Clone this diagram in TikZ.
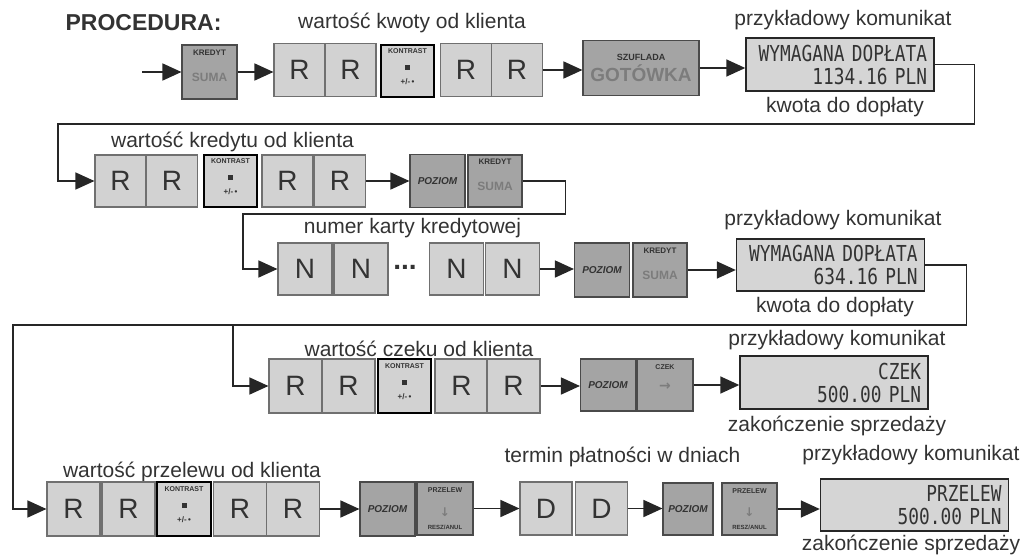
\documentclass[tikz,border=0pt]{standalone}
\usepackage{fontspec}
\setmainfont{Liberation Sans}
\newfontfamily\lcdfont[FakeStretch=0.81]{DejaVu Sans Mono}
\newfontfamily\symfont{DejaVu Sans}
\usetikzlibrary{arrows.meta}

\begin{document}
\begin{tikzpicture}[x=1pt, y=-1pt,
  every node/.style={inner sep=0pt},
  lab/.style={font=\fontsize{21}{24}\selectfont, text=cInk},
  digit/.style={draw=cEdge, fill=cKey, line width=1.1pt, minimum width=51pt,
    minimum height=53pt, font=\fontsize{28}{28}\selectfont, text=cInk},
  dotkey/.style={digit, draw=black, line width=1.8pt, align=center,
    font=\fontsize{7}{12}\selectfont\bfseries},
  fnkey/.style={draw=cDark, fill=cFn, line width=1.1pt, minimum width=55pt,
    minimum height=54pt, align=center, font=\fontsize{8}{12}\selectfont\bfseries, text=cInk},
  lvlkey/.style={fnkey, font=\fontsize{10}{12}\selectfont\bfseries\itshape},
  lcd/.style={draw=cLine, fill=cLcd, line width=1.4pt, inner xsep=7pt, minimum height=53pt,
    text width=174pt, align=right, font=\lcdfont\fontsize{22}{23}\selectfont, text=cInk},
  flow/.style={draw=cLine, line width=1.6pt, -{Triangle[length=19pt,width=17pt]}},
  wire/.style={flow, line width=1.4pt},
]

% --- colors (scanned grey tones) ---
\definecolor{cKey} {HTML}{D2D2D2}
\definecolor{cEdge}{HTML}{707070}
\definecolor{cFn}  {HTML}{A4A4A4}
\definecolor{cDark}{HTML}{4A4A4A}
\definecolor{cLcd} {HTML}{D5D5D5}
\definecolor{cLine}{HTML}{262626}
\definecolor{cInk} {HTML}{333333}
\definecolor{cSoft}{HTML}{7C7C7C}

\useasboundingbox (0,0) rectangle (1023,557);

% --- key faces ---
\def\kontrast{KONTRAST\\[4pt]\rule{5pt}{5pt}\\[2.5pt]{\fontsize{8}{12}\selectfont +/-\,\textbullet}\\[-3pt]\mbox{}}
\def\kredyt{KREDYT\\[14pt]{\fontsize{12}{12}\selectfont\color{cSoft}SUMA}\\\mbox{}}
\def\przelew{{\fontsize{7}{12}\selectfont PRZELEW}\\[11.5pt]{\symfont\fontsize{12}{12}\selectfont\color{cSoft}↓}\\[1pt]{\fontsize{6}{12}\selectfont RESZ/ANUL}}

% --- row 1: gotowka ---
\node[font=\fontsize{23}{26}\selectfont\bfseries, text=cInk] (title) at (143.5,23) {PROCEDURA:};
\node[lab] (lab1) at (412,23) {wartość kwoty od klienta};
\coordinate (in1) at (142,72);
\node[fnkey] (kr1) at (209.5,72) {\kredyt};
\foreach \nm/\cx in {r1a/299.5, r1b/350.5, r1c/466, r1d/517}
  \node[digit] (\nm) at (\cx,70) {R};
\node[dotkey, minimum width=53pt, minimum height=52pt] (kt1) at (407.5,71) {\kontrast};
\node[fnkey, minimum width=116pt, minimum height=55pt, font=\fontsize{9}{12}\selectfont\bfseries] (sz) at (641,68)
  {SZUFLADA\\[3pt]{\fontsize{19}{19}\selectfont\color{cSoft}GOTÓWKA}};
\node[lcd] (msg1) at (840,64.5) {WYMAGANA DOPŁATA\\1134.16 PLN};
\node[lab] (lab1b) at (843,20) {przykładowy komunikat};
\node[lab] (lab1c) at (845,107) {kwota do dopłaty};

\draw[flow] (in1) -- (kr1.west);
\draw[flow] (kr1.east) -- (kr1.east -| r1a.west);
\draw[flow] (r1d.east) -- (r1d.east -| sz.west);
\draw[flow] (sz.east) -- (sz.east -| msg1.west);

% --- row 2: kredyt ---
\node[lab] (lab2) at (232.5,142) {wartość kredytu od klienta};
\foreach \nm/\cx in {r2a/120.5, r2b/172, r2c/287.5, r2d/340}
  \node[digit, minimum height=52pt] (\nm) at (\cx,181) {R};
\node[dotkey, minimum width=53pt, minimum height=52pt] (kt2) at (230.5,181) {\kontrast};
\node[lvlkey, minimum height=53pt] (pz2) at (437.5,181) {POZIOM};
\node[fnkey, minimum width=54pt, minimum height=52pt] (kr2) at (495,181) {\kredyt};

\draw[flow] (r2d.east) -- (r2d.east -| pz2.west);

% --- row 3: numer karty ---
\node[lab] (lab3) at (412.5,228) {numer karty kredytowej};
\foreach \nm/\cx in {n3a/305, n3b/361, n3c/456.5, n3d/512.5}
  \node[digit, minimum width=54pt, minimum height=52pt] (\nm) at (\cx,269) {N};
\node[font=\fontsize{28}{28}\selectfont\bfseries, text=cInk] (dots) at (405,267) {...};
\node[lvlkey] (pz3) at (602,270) {POZIOM};
\node[fnkey, minimum width=54pt] (kr3) at (660,270) {\kredyt};
\node[lcd, minimum height=52pt] (msg2) at (830.5,265) {WYMAGANA DOPŁATA\\634.16 PLN};
\node[lab] (lab3b) at (833,220) {przykładowy komunikat};
\node[lab] (lab3c) at (835,307) {kwota do dopłaty};

\draw[flow] (n3d.east) -- (n3d.east -| pz3.west);
\draw[flow] (kr3.east) -- (kr3.east -| msg2.west);

% --- row 4: czek ---
\node[lab] (lab4) at (419,349) {wartość czeku od klienta};
\foreach \nm/\cx in {r4a/295.5, r4b/348.5, r4c/461.5, r4d/513.5}
  \node[digit, minimum width=53pt, minimum height=54pt] (\nm) at (\cx,386) {R};
\node[dotkey, minimum width=53pt, minimum height=54pt] (kt4) at (404.5,386) {\kontrast};
\node[lvlkey, minimum height=52pt] (pz4) at (608,385) {POZIOM};
\node[fnkey, minimum width=56pt, minimum height=52pt, font=\fontsize{7}{12}\selectfont\bfseries] (cz4) at (665,385)
  {CZEK\\[9pt]{\symfont\fontsize{14}{14}\selectfont\color{cSoft}→}\\[3pt]\mbox{}};
\node[lcd] (msg3) at (834,382.5) {CZEK\\500.00 PLN};
\node[lab] (lab4b) at (837,340) {przykładowy komunikat};
\node[lab] (lab4c) at (837,426) {zakończenie sprzedaży};

\draw[flow] (r4d.east) -- (r4d.east -| pz4.west);
\draw[flow] (cz4.east) -- (cz4.east -| msg3.west);

% --- row 5: przelew ---
\node[lab] (lab5) at (192,472) {wartość przelewu od klienta};
\foreach \nm/\cx in {r5a/73.5, r5b/128.5, r5c/240, r5d/293}
  \node[digit, minimum width=53pt, minimum height=54pt] (\nm) at (\cx,509) {R};
\node[dotkey, minimum width=54pt, minimum height=54pt] (kt5) at (184,509) {\kontrast};
\node[lvlkey] (pz5) at (387.5,509) {POZIOM};
\node[fnkey, minimum width=56pt, minimum height=53pt] (pr5) at (445,508.5) {\przelew};
\node[lab] (lab5b) at (622.5,457) {termin płatności w dniach};
\foreach \nm/\cx in {dn5a/546, dn5b/601.5}
  \node[digit, minimum width=52pt] (\nm) at (\cx,508.5) {D};
\node[lvlkey, minimum width=50pt, minimum height=52pt] (pz5b) at (688,509) {POZIOM};
\node[fnkey, minimum height=52pt] (pr5b) at (749.5,509) {\przelew};
\node[lcd, minimum height=52pt] (msg4) at (914.5,505) {PRZELEW\\500.00 PLN};
\node[lab] (lab5c) at (911,455) {przykładowy komunikat};
\node[lab] (lab5d) at (911,545) {zakończenie sprzedaży};

\draw[flow] (r5d.east) -- (r5d.east -| pz5.west);
\draw[flow] (pr5.east) -- (pr5.east -| dn5a.west);
\draw[flow] (dn5b.east) -- (dn5b.east -| pz5b.west);
\draw[flow] (pr5b.east) -- (pr5b.east -| msg4.west);

% --- links between rows ---
\draw[wire] (msg1.east) -- ++(40,0) |- (58,124) |- (r2a.west);
\draw[wire] (kr2.east) -- ++(43,0) |- (243,214) |- (n3a.west);
\draw[wire] (msg2.east) -- ++(41,0) |- (13,325) |- (r5a.west);
\coordinate (br4) at (233,325);
\draw[wire] (br4) |- (r4a.west);

\end{tikzpicture}
\end{document}
